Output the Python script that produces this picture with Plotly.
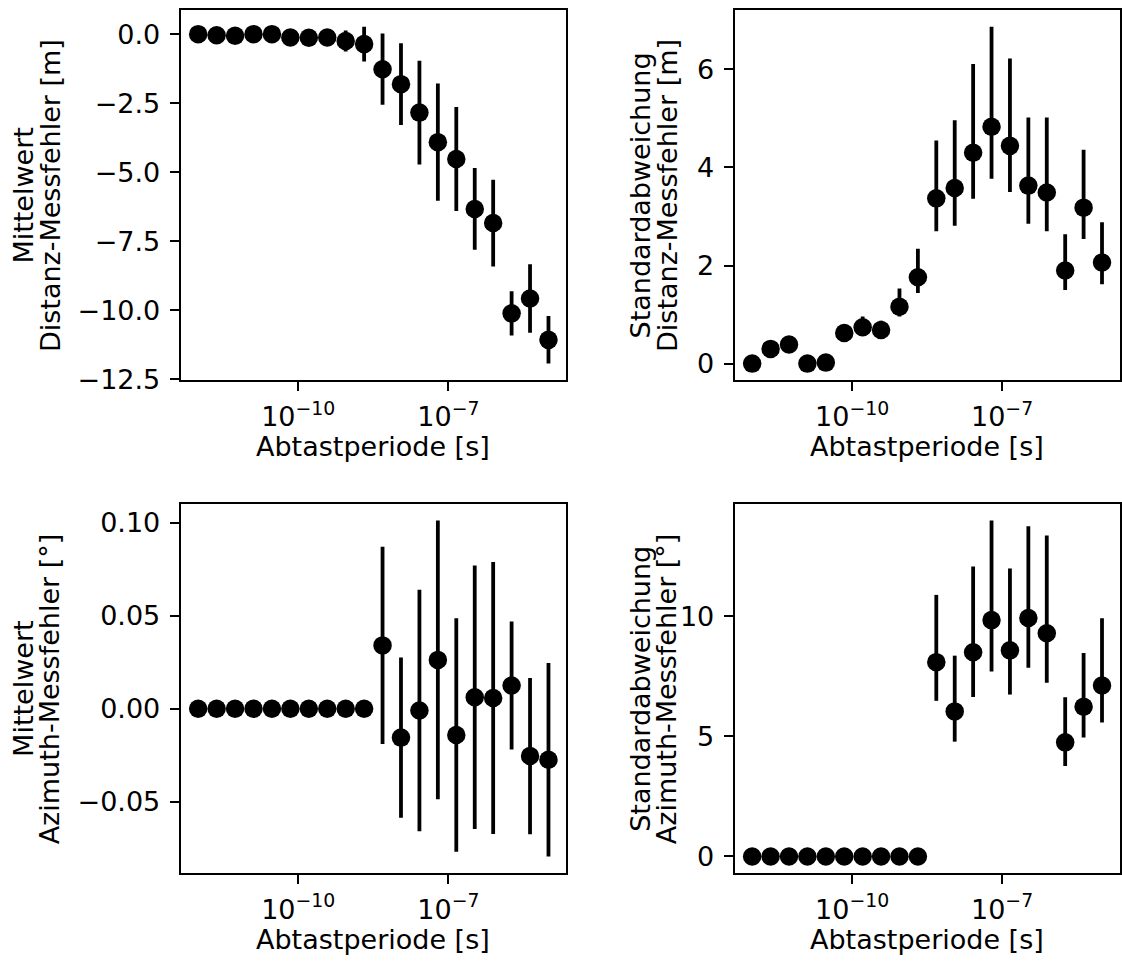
import plotly.graph_objects as go

# Sampling period [s]
abtastperiode = [1.0e-12, 2.336e-12, 5.456e-12, 1.274e-11, 2.976e-11, 6.952e-11,
                 1.624e-10, 3.793e-10, 8.859e-10, 2.069e-9, 4.833e-9, 1.129e-8,
                 2.637e-8, 6.158e-8, 1.438e-7, 3.360e-7, 7.848e-7, 1.833e-6,
                 4.281e-6, 1.0e-5]

# Panel 1: mean distance error [m]
dist_mean = [0.0, -0.04, -0.06, 0.0, 0.0, -0.12, -0.13, -0.12, -0.25, -0.36,
             -1.27, -1.81, -2.84, -3.91, -4.52, -6.33, -6.84, -10.11, -9.57, -11.07]
dist_mean_err = [0, 0, 0, 0, 0, 0.03, 0.03, 0.03, 0.38, 0.63,
                 1.29, 1.48, 1.88, 2.12, 1.88, 1.48, 1.57, 0.80, 1.24, 0.86]

# Panel 2: std of distance error [m]
dist_std = [0.0, 0.30, 0.39, 0.0, 0.02, 0.625, 0.74, 0.685, 1.16, 1.76,
            3.37, 3.58, 4.30, 4.83, 4.44, 3.63, 3.49, 1.90, 3.18, 2.06]
dist_std_plus = [0, 0, 0, 0, 0, 0.08, 0.22, 0.19, 0.37, 0.58,
                 1.18, 1.38, 1.81, 2.04, 1.78, 1.39, 1.53, 0.74, 1.18, 0.82]
dist_std_minus = [0, 0, 0, 0, 0, 0.05, 0.14, 0.12, 0.20, 0.32,
                  0.67, 0.77, 0.94, 1.06, 0.94, 0.78, 0.79, 0.40, 0.64, 0.44]

# Panel 3: mean azimuth error [deg]
az_mean = [0, 0, 0, 0, 0, 0, 0, 0, 0, 0,
           0.0341, -0.0155, -0.0009, 0.0263, -0.0141, 0.0062, 0.0058, 0.0125, -0.0254, -0.0274]
az_mean_err = [0, 0, 0, 0, 0, 0, 0, 0, 0, 0,
               0.053, 0.0431, 0.0649, 0.075, 0.0628, 0.0709, 0.0731, 0.0344, 0.042, 0.052]

# Panel 4: std of azimuth error [deg]
az_std = [0, 0, 0, 0, 0, 0, 0, 0, 0, 0,
          8.09, 6.04, 8.50, 9.84, 8.58, 9.93, 9.29, 4.75, 6.23, 7.12]
az_std_plus = [0, 0, 0, 0, 0, 0, 0, 0, 0, 0,
               2.80, 2.32, 3.57, 4.15, 3.41, 3.82, 4.07, 1.88, 2.24, 2.80]
az_std_minus = [0, 0, 0, 0, 0, 0, 0, 0, 0, 0,
                1.61, 1.26, 1.86, 2.14, 1.84, 2.07, 2.06, 0.98, 1.28, 1.54]

x_tickvals = [1e-10, 1e-7]
x_ticktext = ["10<sup>\u221210</sup>", "10<sup>\u22127</sup>"]
x_title = "Abtastperiode [s]"
y_titles = [("Mittelwert", "Distanz-Messfehler [m]"),
            ("Standardabweichung", "Distanz-Messfehler [m]"),
            ("Mittelwert", "Azimuth-Messfehler [°]"),
            ("Standardabweichung", "Azimuth-Messfehler [°]")]
y_tickvals = [[0.0, -2.5, -5.0, -7.5, -10.0, -12.5], [0, 2, 4, 6],
              [0.10, 0.05, 0.00, -0.05], [0, 5, 10]]
y_ticktext = [["0.0", "\u22122.5", "\u22125.0", "\u22127.5", "\u221210.0", "\u221212.5"],
              ["0", "2", "4", "6"],
              ["0.10", "0.05", "0.00", "\u22120.05"],
              ["0", "5", "10"]]

W, H = 1122, 972
FONT = "DejaVu Sans"
FS = 27

panels = [
    (dist_mean, dist_mean_err, dist_mean_err),
    (dist_std, dist_std_plus, dist_std_minus),
    (az_mean, az_mean_err, az_mean_err),
    (az_std, az_std_plus, az_std_minus),
]

# pixel boxes of the axes (left, right, top, bottom)
boxes = [(181, 567, 10, 386), (736, 1121.5, 10, 386),
         (181, 567, 511, 886), (736, 1121.5, 511, 886)]

fig = go.Figure()
annotations = []
layout = {}
for i, ((y, ep, em), (l, r, t, b)) in enumerate(zip(panels, boxes)):
    n = i + 1
    xa = "x" if n == 1 else f"x{n}"
    ya = "y" if n == 1 else f"y{n}"
    fig.add_trace(go.Scatter(
        x=abtastperiode, y=y, mode="markers", xaxis=xa, yaxis=ya,
        marker=dict(size=18.5, color="black"),
        error_y=dict(type="data", array=ep, arrayminus=em, symmetric=False,
                     thickness=3.8, width=0, color="black"),
        showlegend=False, hoverinfo="x+y"))
    lo = min(v - m for v, m in zip(y, em))
    hi = max(v + p for v, p in zip(y, ep))
    pad = 0.05 * (hi - lo)
    axis_common = dict(showline=True, linecolor="black", linewidth=2, mirror=True,
                       ticks="outside", ticklen=9, tickwidth=2, tickcolor="black",
                       showgrid=False, zeroline=False,
                       tickfont=dict(family=FONT, size=FS, color="black"))
    layout["xaxis" if n == 1 else f"xaxis{n}"] = dict(
        axis_common, type="log", domain=[l / W, r / W], anchor=ya,
        range=[-12.35, -4.65], tickvals=x_tickvals, ticktext=x_ticktext,
        ticklabelstandoff=2)
    layout["yaxis" if n == 1 else f"yaxis{n}"] = dict(
        axis_common, domain=[1 - b / H, 1 - t / H], anchor=xa,
        range=[lo - pad, hi + pad], tickvals=y_tickvals[i], ticktext=y_ticktext[i],
        ticklabelstandoff=4)
    # x title
    annotations.append(dict(text=x_title, xref="paper", yref="paper",
                            x=(l + r) / 2 / W, y=1 - (b + 67) / H,
                            xanchor="center", yanchor="middle", showarrow=False,
                            font=dict(family=FONT, size=FS, color="black")))
    # y title (two lines)
    base = 0 if l < 400 else 618
    for j, line in enumerate(y_titles[i]):
        cx = base + (23.5 if j == 0 else 50.0)
        annotations.append(dict(text=line, xref="paper", yref="paper",
                                x=cx / W, y=1 - (t + b) / 2 / H,
                                xanchor="center", yanchor="middle", textangle=-90,
                                showarrow=False,
                                font=dict(family=FONT, size=FS, color="black")))

fig.update_layout(**layout)
fig.update_layout(width=W, height=H, margin=dict(l=0, r=0, t=0, b=0),
                  paper_bgcolor="white", plot_bgcolor="white",
                  annotations=annotations, font=dict(family=FONT, size=FS))
fig.write_html("out.html")
